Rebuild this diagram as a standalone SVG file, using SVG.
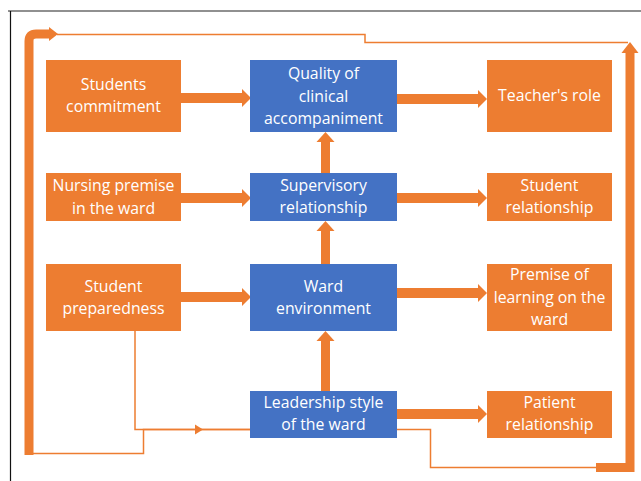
<svg xmlns="http://www.w3.org/2000/svg" width="641" height="481" viewBox="0 0 641 481">
  <style>
    .org { fill: #ED7D31; }
    .blu { fill: #4472C4; }
    .lbl { font-family: "Open Sans", "Noto Sans", sans-serif; font-size: 15.8px; fill: #ffffff; text-anchor: middle; }
    .thin { fill: none; stroke: #ED7D31; stroke-width: 1.5; }
    .thick { fill: none; stroke: #ED7D31; stroke-width: 9; }
  </style>
  <defs>
    <!-- block arrow heads, tip at origin -->
    <polygon id="headR" points="0,0 -9,-9 -9,9" fill="#ED7D31"/>
    <polygon id="headU" points="0,0 -9,10 9,10" fill="#ED7D31"/>
  </defs>

  <rect width="641" height="481" fill="#ffffff"/>
  <!-- frame -->
  <line x1="8" y1="11" x2="641" y2="11" stroke="#6b6b6b" stroke-width="1.5"/>
  <line x1="10.5" y1="11" x2="10.5" y2="481" stroke="#111111" stroke-width="1.2"/>

  <g id="connectors">
    <!-- horizontal block arrows -->
    <rect x="181" y="93" width="62" height="10" class="org"/>
    <use href="#headR" x="251" y="98"/>
    <rect x="397" y="94" width="83" height="10" class="org"/>
    <use href="#headR" x="487" y="99"/>

    <rect x="181" y="193" width="62" height="10" class="org"/>
    <use href="#headR" x="251" y="198"/>
    <rect x="397" y="193" width="83" height="10" class="org"/>
    <use href="#headR" x="487" y="198"/>

    <rect x="181" y="292" width="62" height="10" class="org"/>
    <use href="#headR" x="251" y="297"/>
    <rect x="397" y="288" width="83" height="10" class="org"/>
    <use href="#headR" x="487" y="293"/>

    <rect x="397" y="409" width="83" height="10" class="org"/>
    <use href="#headR" x="487" y="414"/>

    <!-- vertical block arrows -->
    <rect x="321" y="142" width="9" height="31" class="org"/>
    <use href="#headU" x="325.5" y="132"/>
    <rect x="321" y="231" width="9" height="33" class="org"/>
    <use href="#headU" x="325.5" y="221"/>
    <rect x="321" y="341" width="9" height="50" class="org"/>
    <use href="#headU" x="325.5" y="331"/>

    <!-- preparedness feed into leadership -->
    <polyline class="thin" points="135,331 135,429.5 250,429.5"/>
    <polygon points="203,429.5 195,424.5 195,434.5" fill="#ED7D31"/>

    <!-- feedback loop round the left side and top -->
    <polyline class="thin" points="250,429.5 143.5,429.5 143.5,453.5 29,453.5"/>
    <path class="thick" d="M29,455 V41 Q29,34 36,34 H50"/>
    <polygon points="58,34 49,27 49,41" fill="#ED7D31"/>
    <polyline class="thin" points="57,34.5 365,34.5 365,42.5 628,42.5"/>

    <!-- loop round the right side -->
    <polyline class="thin" points="397,429.5 430.5,429.5 430.5,467.5 596,467.5"/>
    <path class="thick" d="M596,467.5 H630 V52"/>
    <polygon points="630,42 621.5,53 638.5,53" fill="#ED7D31"/>
  </g>

  <!-- left column -->
  <g id="students-commitment">
    <rect x="46" y="60" width="135" height="72" class="org"/>
    <text class="lbl" x="113.5" y="90">Students</text>
    <text class="lbl" x="113.5" y="112">commitment</text>
  </g>
  <g id="nursing-premise">
    <rect x="46" y="173" width="135" height="48" class="org"/>
    <text class="lbl" x="113.5" y="191">Nursing premise</text>
    <text class="lbl" x="113.5" y="214">in the ward</text>
  </g>
  <g id="student-preparedness">
    <rect x="46" y="264" width="135" height="67" class="org"/>
    <text class="lbl" x="113.5" y="292">Student</text>
    <text class="lbl" x="113.5" y="314">preparedness</text>
  </g>

  <!-- middle column -->
  <g id="quality">
    <rect x="250" y="60" width="147" height="72" class="blu"/>
    <text class="lbl" x="323.5" y="79">Quality of</text>
    <text class="lbl" x="323.5" y="102">clinical</text>
    <text class="lbl" x="323.5" y="124">accompaniment</text>
  </g>
  <g id="supervisory">
    <rect x="250" y="173" width="147" height="48" class="blu"/>
    <text class="lbl" x="323.5" y="191">Supervisory</text>
    <text class="lbl" x="323.5" y="213">relationship</text>
  </g>
  <g id="ward-environment">
    <rect x="250" y="264" width="147" height="67" class="blu"/>
    <text class="lbl" x="323.5" y="292">Ward</text>
    <text class="lbl" x="323.5" y="314">environment</text>
  </g>
  <g id="leadership">
    <rect x="250" y="391" width="147" height="47" class="blu"/>
    <text class="lbl" x="323.5" y="408">Leadership style</text>
    <text class="lbl" x="323.5" y="430">of the ward</text>
  </g>

  <!-- right column -->
  <g id="teachers-role">
    <rect x="487" y="60" width="125" height="72" class="org"/>
    <text class="lbl" x="549.5" y="101">Teacher's role</text>
  </g>
  <g id="student-relationship">
    <rect x="487" y="173" width="125" height="48" class="org"/>
    <text class="lbl" x="549.5" y="191">Student</text>
    <text class="lbl" x="549.5" y="213">relationship</text>
  </g>
  <g id="premise-learning">
    <rect x="487" y="264" width="125" height="67" class="org"/>
    <text class="lbl" x="549.5" y="280">Premise of</text>
    <text class="lbl" x="549.5" y="303">learning on the</text>
    <text class="lbl" x="549.5" y="325">ward</text>
  </g>
  <g id="patient-relationship">
    <rect x="487" y="391" width="125" height="47" class="org"/>
    <text class="lbl" x="549.5" y="408">Patient</text>
    <text class="lbl" x="549.5" y="430">relationship</text>
  </g>
</svg>
